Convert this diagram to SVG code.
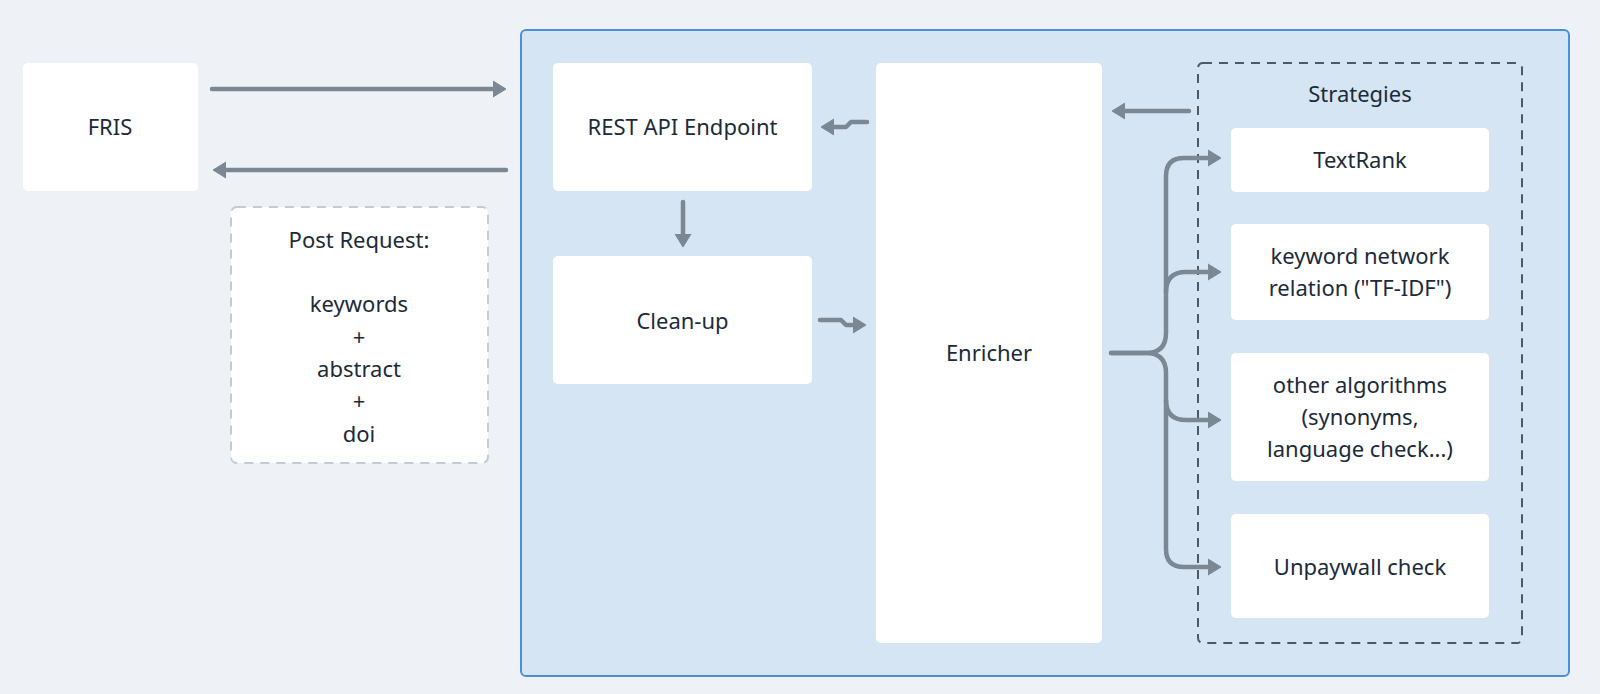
<svg xmlns="http://www.w3.org/2000/svg" width="1600" height="694" viewBox="0 0 1600 694">
<defs>
<style>
.bg{fill:#eef2f6}
.node{fill:#ffffff;stroke:none}
.t{font-family:"Noto Sans","Open Sans","Liberation Sans",sans-serif;font-size:22px;fill:#1c2a3a;text-anchor:middle}
.c{fill:none;stroke:#7b8894;stroke-width:4.5;stroke-linecap:round;stroke-linejoin:round}
</style>
<marker id="ah" viewBox="0 0 14 18" refX="1" refY="9" markerWidth="14" markerHeight="18" markerUnits="userSpaceOnUse" orient="auto">
<path d="M0,1 L13,9 L0,17 z" fill="#7b8894" stroke="#7b8894" stroke-width="1" stroke-linejoin="round"/>
</marker>
</defs>
<rect class="bg" x="0" y="0" width="1600" height="694"/>

<g id="container">
<rect x="521" y="30" width="1048" height="646" rx="5" fill="#d6e5f3" stroke="#4a8fd8" stroke-width="2"/>
</g>

<g id="strategies">
<rect x="1198" y="63" width="324" height="580" rx="5" fill="none" stroke="#4d5a66" stroke-width="2" stroke-dasharray="9 7"/>
<text class="t" x="1360" y="102">Strategies</text>
</g>

<g id="fris">
<rect class="node" x="23" y="63" width="175" height="128" rx="5"/>
<text class="t" x="110" y="135">FRIS</text>
</g>

<g id="post-request">
<rect x="231" y="207" width="257" height="256" rx="6" fill="#ffffff" stroke="#c3ccd6" stroke-width="2" stroke-dasharray="9 7"/>
<text class="t" x="359" y="248">Post Request:</text>
<text class="t" x="359" y="312">keywords</text>
<text class="t" x="359" y="345">+</text>
<text class="t" x="359" y="377">abstract</text>
<text class="t" x="359" y="409">+</text>
<text class="t" x="359" y="442">doi</text>
</g>

<g id="rest-api">
<rect class="node" x="553" y="63" width="259" height="128" rx="5"/>
<text class="t" x="682.5" y="135">REST API Endpoint</text>
</g>

<g id="clean-up">
<rect class="node" x="553" y="256" width="259" height="128" rx="5"/>
<text class="t" x="682.5" y="329">Clean-up</text>
</g>

<g id="enricher">
<rect class="node" x="876" y="63" width="226" height="580" rx="5"/>
<text class="t" x="989" y="361">Enricher</text>
</g>

<g id="textrank">
<rect class="node" x="1231" y="128" width="258" height="64" rx="5"/>
<text class="t" x="1360" y="168">TextRank</text>
</g>

<g id="keyword-network">
<rect class="node" x="1231" y="224" width="258" height="96" rx="5"/>
<text class="t" x="1360" y="264">keyword network</text>
<text class="t" x="1360" y="296">relation ("TF-IDF")</text>
</g>

<g id="other-algorithms">
<rect class="node" x="1231" y="353" width="258" height="128" rx="5"/>
<text class="t" x="1360" y="393">other algorithms</text>
<text class="t" x="1360" y="425">(synonyms,</text>
<text class="t" x="1360" y="457">language check...)</text>
</g>

<g id="unpaywall">
<rect class="node" x="1231" y="514" width="258" height="104" rx="5"/>
<text class="t" x="1360" y="575">Unpaywall check</text>
</g>

<g id="connectors">
<path class="c" d="M212,89 H494" marker-end="url(#ah)"/>
<path class="c" d="M506,170 H225" marker-end="url(#ah)"/>
<path class="c" d="M683,202 V235" marker-end="url(#ah)"/>
<path class="c" d="M867,122 H851 L846,127 H833" marker-end="url(#ah)"/>
<path class="c" d="M820,320 H841 L846,325 H854" marker-end="url(#ah)"/>
<path class="c" d="M1189,111 H1124" marker-end="url(#ah)"/>
<path class="c" d="M1111,353 H1146 Q1166,353 1166,333 V176 Q1166,158 1184,158 H1209" marker-end="url(#ah)"/>
<path class="c" d="M1166,292 Q1166,272 1186,272 H1209" marker-end="url(#ah)"/>
<path class="c" d="M1111,353 H1146 Q1166,353 1166,373 V549 Q1166,567 1184,567 H1209" marker-end="url(#ah)"/>
<path class="c" d="M1166,400 Q1166,420 1186,420 H1209" marker-end="url(#ah)"/>
</g>
</svg>
